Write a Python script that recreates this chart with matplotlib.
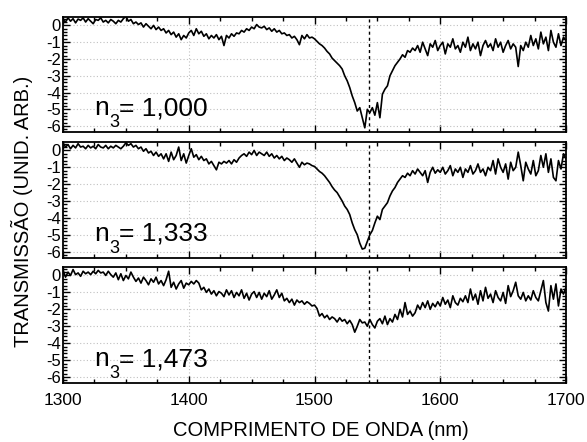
import numpy as np
import matplotlib
matplotlib.use("Agg")
import matplotlib.pyplot as plt
from matplotlib.ticker import MultipleLocator

plt.rcParams['font.family'] = ['Liberation Sans', 'DejaVu Sans']

# wavelength grid (nm)
wavelength = np.arange(1300, 1701, 2)

# n3 = 1,000
t_1000 = [
    0.35, 0.2, 0.45, 0.25, 0.4, 0.15, 0.38, 0.3, 0.45, 0.2,
    0.4, 0.25, 0.1, 0.35, 0.3, 0.45, 0.2, 0.3, 0.15, 0.35,
    0.25, 0.1, 0.3, 0.2, 0.4, 0.55, 0.25, 0.35, 0.1, 0.2,
    0.05, 0.15, -0.1, 0.1, -0.05, -0.2, 0.0, -0.25, -0.1, -0.3,
    -0.2, -0.45, -0.3, -0.55, -0.4, -0.7, -0.5, -0.85, -0.6, -0.75,
    -0.45, -0.3, -0.6, -0.2, -0.5, -0.35, -0.65, -0.5, -0.8, -0.6,
    -0.75, -0.55, -0.85, -0.65, -1.2, -0.6, -0.75, -0.5, -0.65, -0.45,
    -0.5, -0.3, -0.4, -0.2, -0.3, -0.1, -0.2, 0.05, -0.1, -0.15,
    -0.05, -0.25, -0.15, -0.35, -0.2, -0.4, -0.3, -0.5, -0.45, -0.6,
    -0.55, -0.75, -0.65, -0.85, -1.15, -0.6, -0.8, -0.55, -0.75, -0.7,
    -0.8, -0.95, -1.1, -1.2, -1.35, -1.55, -1.7, -1.95, -2.1, -2.25,
    -2.4, -2.6, -3.0, -3.3, -3.7, -4.2, -4.6, -5.1, -4.9, -5.5,
    -6.1, -5.0, -5.2, -4.9, -5.35, -4.6, -5.5, -4.1, -3.8, -3.6,
    -3.0, -2.7, -2.4, -2.2, -2.0, -1.75, -1.9, -1.5, -1.6, -1.35,
    -1.5, -1.2, -1.6, -1.0, -1.4, -1.8, -1.1, -1.3, -0.9, -1.5,
    -1.2, -1.0, -1.7, -1.1, -1.3, -0.8, -1.4, -1.2, -1.6, -1.0,
    -1.3, -0.7, -1.5, -1.1, -1.4, -1.0, -1.8, -1.2, -0.9, -1.3,
    -1.1, -1.5, -0.8, -1.3, -1.0, -1.6, -1.2, -0.9, -1.4, -1.1,
    -1.3, -2.45, -1.2, -1.5, -1.0, -1.3, -0.6, -1.2, -0.8, -1.4,
    -0.4, -1.1, -0.7, -1.5, -0.3, -1.0, -1.3, -0.5, -1.2, -0.7,
    -0.9,
]

# n3 = 1,333
t_1333 = [
    0.45, 0.2, 0.35, 0.1, 0.3, 0.15, 0.4, 0.2, 0.25, 0.1,
    0.3, 0.15, 0.25, 0.1, 0.35, 0.2, 0.15, 0.3, 0.1, 0.25,
    0.15, 0.3, 0.2, 0.1, 0.25, 0.45, 0.3, 0.4, 0.2, 0.3,
    0.1, 0.2, -0.05, 0.1, -0.15, -0.05, -0.3, -0.1, -0.35, -0.2,
    -0.5, -0.2, -0.65, -0.1, -0.55, -0.3, 0.2, -0.6, -0.2, -0.75,
    -0.3, 0.1, -0.4, -0.25, -0.55, -0.35, -0.6, -0.5, -0.8, -0.65,
    -0.9, -1.15, -0.7, -0.8, -0.65, -0.75, -0.6, -0.8, -0.55, -0.7,
    -0.45, -0.3, -0.2, -0.35, -0.1, -0.25, 0.0, -0.3, -0.1, -0.2,
    -0.3, -0.1, -0.35, -0.2, -0.45, -0.3, -0.5, -0.35, -0.6, -0.45,
    -0.55, -0.7, -0.5, -0.75, -1.0, -0.7, -0.85, -0.75, -0.8, -0.9,
    -0.95, -1.1, -1.25, -1.35, -1.5, -1.7, -1.9, -2.15, -2.35, -2.5,
    -2.75, -3.0, -3.3, -3.5, -3.8, -4.3, -4.7, -5.0, -5.5, -5.85,
    -5.8, -5.4, -5.0, -4.75, -4.3, -3.9, -4.1, -3.5, -3.3, -3.1,
    -2.7, -2.4, -2.2, -1.9, -1.7, -1.5, -1.6, -1.35, -1.5, -1.2,
    -1.4, -1.1, -1.3, -1.5, -1.2, -1.9, -1.3, -1.0, -1.35, -1.15,
    -1.3, -1.0, -1.4, -1.2, -0.9, -1.5, -1.1, -1.3, -1.0, -1.6,
    -1.1, -1.3, -0.9, -1.4, -1.2, -0.8, -1.3, -1.1, -1.5, -1.0,
    -1.2, -0.6, -1.4, -0.5, -1.0, -1.3, -0.8, -1.7, -0.7, -1.2,
    -1.0, -0.1, -0.9, -1.8, -0.7, -1.1, -1.4, -0.6, -1.5, -1.2,
    -0.3, -1.0, -0.2, -1.3, -0.5, -1.6, -1.8, -0.6, -1.1, -0.2,
    -0.5,
]

# n3 = 1,473
t_1473 = [
    0.3, -0.1, 0.2, 0.0, 0.35, 0.05, 0.15, -0.05, 0.25, 0.1,
    0.2, 0.05, 0.25, 0.1, 0.3, 0.15, 0.2, 0.0, 0.25, 0.05,
    -0.1, 0.15, -0.25, 0.1, -0.3, 0.0, -0.2, 0.2, -0.1, -0.35,
    -0.15, -0.45, -0.1, -0.3, -0.55, -0.2, -0.4, -0.1, -0.5, -0.3,
    -0.6, -0.25, 0.25, -0.7, -0.4, -0.8, -0.5, -0.3, -0.75, -0.45,
    -0.55, -0.35, -0.5, -0.3, -0.45, -0.85, -0.7, -1.0, -0.8, -1.1,
    -0.9, -1.2, -0.95, -1.05, -1.25, -0.85, -1.15, -0.9, -1.3, -1.0,
    -1.2, -0.85, -1.35, -1.05, -1.45, -1.1, -0.95, -1.3, -1.0, -1.4,
    -1.05, -1.25, -0.9, -1.4, -1.15, -0.85, -1.3, -1.05, -1.5, -1.35,
    -1.6, -1.4, -1.75, -1.45, -1.6, -1.5, -1.7, -1.55, -1.65, -1.8,
    -1.75, -1.95, -2.4, -2.25, -2.5, -2.35, -2.6, -2.45, -2.55, -2.75,
    -2.5, -2.7, -2.6, -2.85, -2.65, -2.9, -3.35, -3.0, -2.6, -2.8,
    -2.75, -3.0, -2.6, -2.9, -3.1, -2.7, -2.55, -2.85, -2.4, -2.9,
    -2.55, -2.75, -2.3, -2.6, -2.0, -2.45, -1.6, -2.3, -2.1, -2.4,
    -2.2, -1.75, -2.0, -1.6, -1.9, -1.5, -2.0, -1.65, -1.85, -1.55,
    -1.8, -1.3, -1.7, -1.45, -1.9, -1.2, -1.6, -1.75, -1.35, -1.55,
    -1.2, -1.6, -0.8, -1.45, -1.1, -1.7, -0.9, -1.5, -0.7, -1.35,
    -1.1, -1.6, -0.9, -1.3, -1.5, -1.0, -1.65, -0.6, -1.25, -0.9,
    -0.4, -1.2, -1.4, -1.0, -1.5, -1.2, -1.45, -0.9, -1.3, -1.5,
    -0.9, -0.3, -1.6, -2.1, -0.6, -1.4, -0.5, -1.8, -0.8, -1.1,
    -0.7,
]

series = [t_1000, t_1333, t_1473]
labels = ['1,000', '1,333', '1,473']
resonance_nm = 1543
x_ticks = [1300, 1400, 1500, 1600, 1700]
y_ticks = [0, -1, -2, -3, -4, -5, -6]

fig = plt.figure(figsize=(5.87, 4.42), dpi=100)
left, right = 63 / 587, 566 / 587
panels_px = [(17, 132), (142, 257.5), (267, 383)]

axes = []
for i, ((top, bot), ys, lab) in enumerate(zip(panels_px, series, labels)):
    ax = fig.add_axes([left, 1 - bot / 442, right - left, (bot - top) / 442])
    axes.append(ax)
    ax.plot(wavelength, ys, color='black', lw=1.2, zorder=3)
    ax.axvline(resonance_nm, color='black', lw=1.0, linestyle=(0, (2.2, 2.2)), zorder=4)
    ax.set_xlim(1300, 1700)
    ax.set_ylim(-6.35, 0.5)
    ax.set_xticks(x_ticks)
    ax.set_yticks(y_ticks)
    ax.xaxis.set_minor_locator(MultipleLocator(25))
    ax.yaxis.set_minor_locator(MultipleLocator(0.2))
    ax.grid(True, which='major', color='#c0c0c0', linestyle=(0, (1, 2)), lw=0.8, zorder=0)
    ax.tick_params(which='both', direction='in', top=True, right=True, width=1.0, colors='black')
    ax.tick_params(which='major', length=5)
    ax.tick_params(which='minor', length=3)
    ax.tick_params(axis='y', labelsize=12, pad=1.5)
    ax.tick_params(axis='x', labelsize=12.5, pad=7)
    for s in ax.spines.values():
        s.set_linewidth(1.3)
    ax.set_yticklabels([str(v) for v in y_ticks])
    if i < 2:
        ax.tick_params(axis='x', labelbottom=False)
    # label: n, subscript 3, "= value"
    ax.annotate('n', xy=(1325, -5.35), xycoords='data', xytext=(0, 0),
                textcoords='offset pixels', fontsize=19, ha='left', va='baseline', zorder=5)
    ax.annotate('3', xy=(1325, -5.35), xycoords='data', xytext=(15, -12),
                textcoords='offset pixels', fontsize=13, ha='left', va='baseline', zorder=5)
    ax.annotate('= ' + lab, xy=(1325, -5.35), xycoords='data', xytext=(25, 0),
                textcoords='offset pixels', fontsize=19, ha='left', va='baseline', zorder=5)

fig.text(321 / 587, 1 - 431 / 442, 'COMPRIMENTO DE ONDA (nm)', fontsize=14.5,
         ha='center', va='center')
fig.text(22 / 587, 1 - 211 / 442, 'TRANSMISSÃO (UNID. ARB.)', rotation=90,
         fontsize=14.5, ha='center', va='center')

fig.savefig('out.png', dpi=100)
